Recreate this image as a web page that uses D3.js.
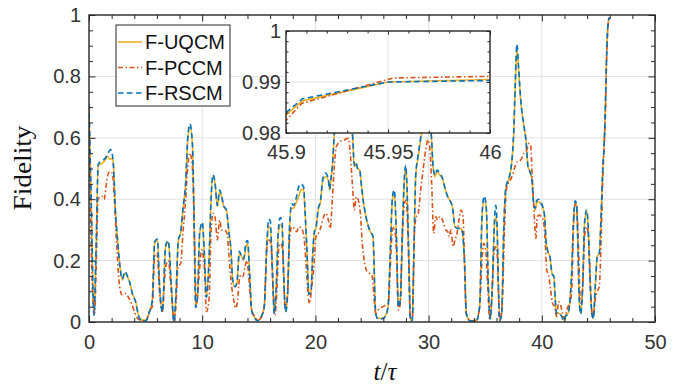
<!DOCTYPE html>
<html><head><meta charset="utf-8">
<script src="https://cdn.jsdelivr.net/npm/d3@7"></script>
<style>body{margin:0;background:#fff}svg{display:block}</style>
</head><body>
<script>
// ---------- data ----------
const xTicks=[0,10,20,30,40,50];
const yTicks=[0,0.2,0.4,0.6,0.8,1];
const insetXTicks=[45.9,45.95,46];
const insetYTicks=[0.98,0.99,1];
const seriesNames=["F-UQCM","F-PCCM","F-RSCM"];

const uqcm=[[0,0.70],[0.2,0.38],[0.44,0.025],[0.6,0.2],[0.82,0.51],[1.18,0.517],[1.47,0.53],[1.62,0.54],[1.83,0.53],[2.06,0.533],[2.14,0.52],[2.36,0.343],[2.5,0.278],[2.71,0.19],[2.94,0.137],[3.18,0.158],[3.39,0.148],[3.59,0.13],[3.83,0.093],[4.12,0.066],[4.42,0.017],[4.71,0.006],[5.01,0.006],[5.3,0.028],[5.59,0.07],[5.8,0.256],[6.04,0.267],[6.24,0.115],[6.48,0.034],[6.77,0.245],[7.01,0.26],[7.24,0.137],[7.51,0.0],[7.71,0.115],[7.89,0.267],[8.1,0.289],[8.3,0.365],[8.54,0.45],[8.72,0.59],[8.92,0.636],[9.13,0.58],[9.28,0.343],[9.42,0.05],[9.57,0.072],[9.78,0.289],[10.01,0.32],[10.19,0.223],[10.37,0.083],[10.6,0.202],[10.78,0.397],[10.95,0.473],[11.13,0.452],[11.34,0.376],[11.54,0.424],[11.72,0.408],[11.9,0.376],[12.13,0.365],[12.37,0.29],[12.54,0.235],[12.69,0.137],[12.89,0.115],[13.07,0.126],[13.28,0.224],[13.48,0.213],[13.66,0.202],[13.87,0.245],[14.01,0.256],[14.19,0.158],[14.37,0.039],[14.6,0.017],[14.9,0.006],[15.19,0.017],[15.48,0.05],[15.72,0.256],[15.87,0.31],[16.01,0.31],[16.19,0.18],[16.37,0.028],[16.54,0.115],[16.72,0.289],[16.9,0.316],[17.05,0.31],[17.19,0.158],[17.37,0.034],[17.55,0.093],[17.72,0.31],[17.9,0.37],[18.08,0.37],[18.28,0.387],[18.52,0.408],[18.72,0.43],[18.96,0.432],[19.08,0.365],[19.25,0.234],[19.43,0.093],[19.61,0.098],[19.75,0.213],[19.9,0.289],[20.08,0.31],[20.25,0.365],[20.43,0.387],[20.67,0.463],[20.9,0.473],[21.14,0.463],[21.26,0.43],[21.37,0.463],[21.55,0.528],[21.67,0.615],[22.0,0.70],[22.4,0.74],[22.8,0.72],[23.1,0.66],[23.29,0.6],[23.44,0.506],[23.58,0.517],[23.73,0.5],[23.91,0.495],[24.08,0.44],[24.26,0.386],[24.44,0.348],[24.61,0.32],[24.85,0.294],[25.08,0.278],[25.33,0.028],[25.53,0.012],[25.83,0.012],[26.12,0.017],[26.42,0.05],[26.62,0.234],[26.8,0.397],[26.97,0.419],[27.15,0.289],[27.33,0.05],[27.5,0.072],[27.68,0.289],[27.86,0.463],[27.98,0.506],[28.09,0.441],[28.27,0.18],[28.39,0.006],[28.56,0.006],[28.68,0.18],[28.86,0.473],[29.04,0.528],[29.21,0.571],[29.39,0.615],[29.7,0.66],[30.0,0.645],[30.24,0.604],[30.39,0.506],[30.57,0.473],[30.74,0.49],[30.98,0.479],[31.21,0.468],[31.42,0.44],[31.63,0.414],[31.86,0.397],[32.1,0.376],[32.33,0.31],[32.57,0.305],[32.81,0.305],[32.98,0.294],[33.16,0.202],[33.33,0.028],[33.63,0.006],[33.92,0.004],[34.22,0.006],[34.51,0.05],[34.72,0.343],[34.92,0.403],[35.1,0.365],[35.28,0.115],[35.45,0.012],[35.63,0.115],[35.81,0.31],[35.93,0.343],[36.04,0.31],[36.16,0.126],[36.28,0.006],[36.46,0.028],[36.63,0.289],[36.81,0.43],[36.99,0.457],[37.16,0.473],[37.34,0.517],[37.52,0.615],[37.65,0.76],[37.8,0.89],[37.95,0.82],[38.13,0.723],[38.42,0.636],[38.6,0.593],[38.78,0.506],[38.95,0.49],[39.13,0.462],[39.25,0.397],[39.42,0.365],[39.54,0.386],[39.72,0.392],[39.9,0.386],[40.07,0.376],[40.25,0.343],[40.37,0.267],[40.54,0.229],[40.72,0.213],[40.9,0.158],[41.07,0.148],[41.19,0.072],[41.31,0.028],[41.49,0.028],[41.72,0.023],[41.96,0.006],[42.13,0.023],[42.31,0.028],[42.49,0.072],[42.66,0.18],[42.78,0.31],[42.96,0.385],[43.08,0.376],[43.19,0.245],[43.31,0.072],[43.43,0.028],[43.61,0.115],[43.78,0.321],[43.96,0.36],[44.08,0.321],[44.25,0.148],[44.43,0.028],[44.55,0.012],[44.72,0.115],[44.9,0.213],[45.08,0.224],[45.26,0.37],[45.4,0.51],[45.5,0.57],[45.6,0.68],[45.72,0.86],[45.82,0.955],[45.9,0.9835],[45.908,0.9863],[45.95,0.990],[46,0.9905]];

const pccm=[[0,0.60],[0.35,0.07],[0.5,0.028],[0.65,0.2],[0.8,0.40],[1.12,0.41],[1.33,0.40],[1.62,0.473],[1.83,0.49],[2.06,0.485],[2.24,0.40],[2.47,0.234],[2.71,0.115],[2.94,0.088],[3.24,0.093],[3.53,0.077],[3.77,0.06],[4.06,0.028],[4.36,0.009],[4.71,0.004],[5.06,0.006],[5.36,0.039],[5.59,0.05],[5.8,0.213],[6.01,0.224],[6.24,0.093],[6.48,0.034],[6.77,0.18],[7.01,0.2],[7.24,0.115],[7.54,0.0],[7.71,0.072],[7.86,0.18],[8.1,0.19],[8.3,0.289],[8.54,0.397],[8.72,0.506],[8.92,0.55],[9.13,0.506],[9.31,0.289],[9.48,0.06],[9.72,0.148],[9.95,0.235],[10.19,0.18],[10.37,0.034],[10.6,0.072],[10.78,0.289],[10.95,0.354],[11.13,0.343],[11.34,0.267],[11.54,0.332],[11.72,0.3],[11.95,0.3],[12.19,0.289],[12.37,0.213],[12.54,0.137],[12.78,0.072],[12.95,0.045],[13.13,0.072],[13.28,0.137],[13.42,0.153],[13.6,0.148],[13.78,0.18],[13.95,0.2],[14.16,0.126],[14.37,0.039],[14.66,0.017],[14.95,0.006],[15.25,0.017],[15.48,0.05],[15.72,0.245],[15.9,0.267],[16.07,0.256],[16.25,0.115],[16.43,0.023],[16.6,0.104],[16.78,0.245],[16.96,0.256],[17.13,0.223],[17.31,0.05],[17.49,0.072],[17.72,0.267],[17.9,0.31],[18.13,0.305],[18.34,0.294],[18.55,0.31],[18.78,0.305],[19.02,0.267],[19.19,0.18],[19.37,0.083],[19.49,0.06],[19.67,0.115],[19.84,0.17],[20.05,0.278],[20.26,0.289],[20.49,0.31],[20.73,0.343],[20.96,0.354],[21.14,0.332],[21.31,0.305],[21.49,0.397],[21.67,0.506],[21.85,0.571],[22.14,0.587],[22.55,0.593],[22.91,0.598],[23.08,0.55],[23.26,0.452],[23.44,0.365],[23.61,0.408],[23.79,0.397],[23.97,0.354],[24.14,0.257],[24.32,0.2],[24.56,0.164],[24.79,0.158],[25.0,0.15],[25.33,0.028],[25.53,0.039],[25.74,0.045],[25.97,0.05],[26.21,0.055],[26.44,0.06],[26.62,0.18],[26.8,0.3],[26.97,0.31],[27.15,0.234],[27.33,0.039],[27.5,0.06],[27.68,0.267],[27.86,0.387],[28.03,0.397],[28.21,0.234],[28.39,0.012],[28.56,0.012],[28.74,0.289],[28.92,0.343],[29.09,0.354],[29.27,0.419],[29.51,0.495],[29.74,0.56],[29.95,0.593],[30.1,0.571],[30.27,0.452],[30.45,0.289],[30.63,0.343],[30.8,0.332],[30.98,0.343],[31.16,0.338],[31.33,0.321],[31.51,0.3],[31.69,0.294],[31.8,0.278],[31.98,0.3],[32.16,0.245],[32.33,0.267],[32.51,0.289],[32.68,0.332],[32.86,0.365],[33.04,0.343],[33.16,0.223],[33.33,0.028],[33.63,0.006],[33.92,0.004],[34.22,0.006],[34.51,0.05],[34.69,0.18],[34.87,0.256],[35.04,0.235],[35.22,0.115],[35.4,0.006],[35.57,0.072],[35.75,0.213],[35.93,0.245],[36.04,0.234],[36.16,0.115],[36.28,0.006],[36.52,0.072],[36.69,0.289],[36.87,0.43],[37.04,0.452],[37.22,0.462],[37.46,0.484],[37.63,0.506],[37.83,0.522],[38.13,0.527],[38.42,0.55],[38.66,0.56],[38.87,0.582],[39.01,0.577],[39.16,0.473],[39.31,0.365],[39.42,0.29],[39.48,0.272],[39.6,0.343],[39.78,0.348],[39.95,0.343],[40.13,0.332],[40.31,0.257],[40.43,0.17],[40.6,0.153],[40.78,0.104],[40.96,0.06],[41.13,0.05],[41.31,0.017],[41.49,0.066],[41.66,0.055],[41.84,0.028],[41.96,0.012],[42.13,0.028],[42.31,0.05],[42.49,0.06],[42.66,0.115],[42.78,0.289],[42.9,0.376],[43.02,0.387],[43.13,0.354],[43.25,0.234],[43.37,0.093],[43.49,0.06],[43.61,0.115],[43.78,0.278],[43.96,0.31],[44.08,0.294],[44.25,0.18],[44.37,0.05],[44.55,0.017],[44.72,0.072],[44.9,0.1],[45.08,0.115],[45.26,0.296],[45.37,0.445],[45.49,0.56],[45.61,0.658],[45.73,0.86],[45.84,0.962],[45.9,0.9825],[45.9077,0.9858],[45.9526,0.9908],[46,0.9911]];

const rscm=[[0,0.71],[0.2,0.39],[0.44,0.022],[0.6,0.2],[0.82,0.515],[1.18,0.525],[1.47,0.535],[1.62,0.545],[1.91,0.562],[2.06,0.545],[2.14,0.52],[2.36,0.343],[2.5,0.278],[2.71,0.19],[2.94,0.14],[3.18,0.165],[3.39,0.15],[3.59,0.13],[3.83,0.093],[4.12,0.066],[4.42,0.015],[4.71,0.004],[5.01,0.004],[5.3,0.028],[5.59,0.07],[5.8,0.262],[6.04,0.27],[6.24,0.115],[6.48,0.032],[6.77,0.25],[7.01,0.265],[7.24,0.137],[7.51,0.0],[7.71,0.115],[7.89,0.267],[8.1,0.292],[8.3,0.368],[8.54,0.455],[8.72,0.6],[8.92,0.645],[9.13,0.585],[9.28,0.343],[9.42,0.048],[9.57,0.072],[9.78,0.292],[10.01,0.325],[10.19,0.223],[10.37,0.08],[10.6,0.202],[10.78,0.4],[10.95,0.48],[11.13,0.455],[11.34,0.38],[11.54,0.43],[11.72,0.41],[11.9,0.378],[12.13,0.365],[12.37,0.29],[12.54,0.235],[12.69,0.137],[12.89,0.115],[13.07,0.128],[13.28,0.23],[13.48,0.215],[13.66,0.205],[13.87,0.26],[14.01,0.265],[14.19,0.158],[14.37,0.037],[14.6,0.015],[14.9,0.004],[15.19,0.015],[15.48,0.05],[15.72,0.262],[15.87,0.335],[16.01,0.33],[16.19,0.18],[16.37,0.026],[16.54,0.115],[16.72,0.295],[16.9,0.34],[17.05,0.33],[17.19,0.158],[17.37,0.032],[17.55,0.093],[17.72,0.315],[17.9,0.385],[18.08,0.38],[18.28,0.4],[18.52,0.44],[18.72,0.45],[18.96,0.44],[19.08,0.365],[19.25,0.234],[19.43,0.09],[19.61,0.098],[19.75,0.213],[19.9,0.292],[20.08,0.315],[20.25,0.37],[20.43,0.39],[20.67,0.47],[20.9,0.485],[21.14,0.465],[21.26,0.432],[21.37,0.465],[21.55,0.535],[21.67,0.62],[22.0,0.71],[22.4,0.75],[22.8,0.73],[23.1,0.67],[23.29,0.605],[23.44,0.51],[23.58,0.52],[23.73,0.5],[23.91,0.495],[24.08,0.44],[24.26,0.386],[24.44,0.348],[24.61,0.32],[24.85,0.294],[25.08,0.28],[25.33,0.026],[25.53,0.01],[25.83,0.01],[26.12,0.015],[26.42,0.05],[26.62,0.234],[26.8,0.405],[26.97,0.43],[27.15,0.289],[27.33,0.048],[27.5,0.072],[27.68,0.292],[27.86,0.47],[27.98,0.51],[28.09,0.441],[28.27,0.18],[28.39,0.004],[28.56,0.004],[28.68,0.18],[28.86,0.478],[29.04,0.535],[29.21,0.578],[29.39,0.62],[29.7,0.67],[30.0,0.65],[30.24,0.61],[30.39,0.51],[30.57,0.478],[30.74,0.495],[30.98,0.485],[31.21,0.47],[31.42,0.44],[31.63,0.414],[31.86,0.397],[32.1,0.376],[32.33,0.31],[32.57,0.305],[32.81,0.305],[32.98,0.294],[33.16,0.202],[33.33,0.026],[33.63,0.004],[33.92,0.003],[34.22,0.004],[34.51,0.05],[34.72,0.35],[34.92,0.41],[35.1,0.37],[35.28,0.115],[35.45,0.01],[35.63,0.115],[35.81,0.325],[35.93,0.38],[36.04,0.33],[36.16,0.126],[36.28,0.004],[36.46,0.026],[36.63,0.292],[36.81,0.435],[36.99,0.46],[37.16,0.478],[37.34,0.52],[37.52,0.62],[37.65,0.77],[37.8,0.905],[37.95,0.83],[38.13,0.728],[38.42,0.64],[38.6,0.593],[38.78,0.506],[38.95,0.49],[39.13,0.462],[39.25,0.397],[39.42,0.37],[39.54,0.395],[39.72,0.4],[39.9,0.39],[40.07,0.376],[40.25,0.343],[40.37,0.267],[40.54,0.229],[40.72,0.213],[40.9,0.158],[41.07,0.148],[41.19,0.072],[41.31,0.026],[41.49,0.026],[41.72,0.02],[41.96,0.004],[42.13,0.02],[42.31,0.026],[42.49,0.072],[42.66,0.18],[42.78,0.315],[42.96,0.395],[43.08,0.38],[43.19,0.245],[43.31,0.07],[43.43,0.026],[43.61,0.115],[43.78,0.325],[43.96,0.365],[44.08,0.325],[44.25,0.148],[44.43,0.026],[44.55,0.01],[44.72,0.115],[44.9,0.213],[45.08,0.224],[45.26,0.37],[45.4,0.51],[45.5,0.57],[45.6,0.68],[45.72,0.86],[45.82,0.955],[45.9,0.984],[45.908,0.9867],[45.95,0.990],[46,0.9903]];

// ---------- setup ----------
const W=688,H=388;
const svg=d3.select("body").append("svg").attr("width",W).attr("height",H);
const FONT="'Liberation Sans', Arial, Helvetica, sans-serif";
const AX="#262626", TXT="#333333", GRID="#e1e1e1";
const series=[uqcm,pccm,rscm];
const styles=[
  {c:"#EDB120",d:null},
  {c:"#D95319",d:"5,2.5,1.5,2.5"},
  {c:"#0072BD",d:"5.5,3.5"}
];

const x=d3.scaleLinear().domain([0,50]).range([89,655]);
const y=d3.scaleLinear().domain([0,1]).range([322,15]);
const ix=d3.scaleLinear().domain([45.9,46]).range([286,490]);
const iy=d3.scaleLinear().domain([0.98,1]).range([133,31]);

function panel(id,xs,ys,opt){
  const [x0,x1]=xs.range(), [yb,yt]=ys.range();
  const g=svg.append("g");
  g.append("rect").attr("x",x0).attr("y",yt).attr("width",x1-x0).attr("height",yb-yt).attr("fill","#fff");
  // grid
  const [dx0,dx1]=xs.domain(), [dy0,dy1]=ys.domain();
  const eps=1e-9;
  g.append("g").selectAll("line").data(opt.majX.filter(v=>v>dx0+eps&&v<dx1-eps)).join("line")
    .attr("x1",d=>xs(d)).attr("x2",d=>xs(d)).attr("y1",yt).attr("y2",yb)
    .attr("stroke",GRID).attr("stroke-width",1);
  g.append("g").selectAll("line").data(opt.majY.filter(v=>v>dy0+eps&&v<dy1-eps)).join("line")
    .attr("y1",d=>ys(d)).attr("y2",d=>ys(d)).attr("x1",x0).attr("x2",x1)
    .attr("stroke",GRID).attr("stroke-width",1);
  // clip
  svg.append("clipPath").attr("id",id).append("rect")
    .attr("x",x0).attr("y",yt).attr("width",x1-x0).attr("height",yb-yt);
  const line=d3.line().x(d=>xs(d[0])).y(d=>ys(d[1])).curve(opt.curve);
  const lg=g.append("g").attr("clip-path",`url(#${id})`);
  series.forEach((s,i)=>{
    lg.append("path").datum(s).attr("d",line).attr("fill","none")
      .attr("stroke",styles[i].c).attr("stroke-width",opt.lw)
      .attr("stroke-dasharray",styles[i].d).attr("stroke-linejoin","round");
  });
  // ticks via d3 axes (inward)
  const mk=(axisFn,scale,vals,len,pos,fmt,pad)=>{
    const a=axisFn(scale).tickValues(vals).tickSize(-len).tickPadding(pad||0)
      .tickFormat(fmt||(()=>""));
    const ag=g.append("g").attr("transform",pos).call(a);
    ag.select(".domain").remove();
    ag.selectAll(".tick line").attr("stroke",AX).attr("stroke-width",1);
    ag.selectAll("text").attr("font-family",FONT).attr("font-size",opt.fs).attr("fill",TXT);
    return ag;
  };
  const minX=opt.minX.filter(v=>!opt.majX.some(m=>Math.abs(m-v)<1e-9));
  const minY=opt.minY.filter(v=>!opt.majY.some(m=>Math.abs(m-v)<1e-9));
  mk(d3.axisBottom,xs,opt.majX,opt.tM,`translate(0,${yb})`,opt.fx,opt.padX);
  mk(d3.axisBottom,xs,minX,opt.tm,`translate(0,${yb})`);
  mk(d3.axisTop,xs,opt.majX,opt.tM,`translate(0,${yt})`);
  mk(d3.axisTop,xs,minX,opt.tm,`translate(0,${yt})`);
  mk(d3.axisLeft,ys,opt.majY,opt.tM,`translate(${x0},0)`,opt.fy,opt.padY);
  mk(d3.axisLeft,ys,minY,opt.tm,`translate(${x0},0)`);
  mk(d3.axisRight,ys,opt.majY,opt.tM,`translate(${x1},0)`);
  mk(d3.axisRight,ys,minY,opt.tm,`translate(${x1},0)`);
  g.append("rect").attr("x",x0).attr("y",yt).attr("width",x1-x0).attr("height",yb-yt)
    .attr("fill","none").attr("stroke",AX).attr("stroke-width",1.4);
  return g;
}

const fmtY=d=>d===0?"0":d===1?"1":d3.format(".1f")(d);
panel("clipMain",x,y,{
  majX:xTicks, minX:d3.range(0,50.001,2),
  majY:yTicks, minY:d3.range(0,1.0001,0.05).map(v=>+v.toFixed(2)),
  tM:6.5, tm:4, fs:20, lw:1.6,
  fx:d3.format("d"), fy:fmtY, padX:13, padY:8,
  curve:d3.curveMonotoneX
});

// axis titles
svg.append("text").attr("transform","translate(31,168) rotate(-90)")
  .attr("text-anchor","middle").attr("font-family","'Liberation Serif','Times New Roman',serif")
  .attr("font-size",25).attr("fill","#111").attr("textLength",85).attr("lengthAdjust","spacingAndGlyphs")
  .text("Fidelity");
const xt=svg.append("text").attr("x",385).attr("y",380).attr("text-anchor","middle")
  .attr("font-family","'Liberation Serif','Times New Roman',serif").attr("font-size",25).attr("fill","#111");
xt.append("tspan").attr("font-style","italic").text("t");
xt.append("tspan").text("/");
xt.append("tspan").attr("font-style","italic").text("τ");

// legend
const lgd=svg.append("g");
lgd.append("rect").attr("x",116).attr("y",25).attr("width",114).attr("height",81)
  .attr("fill","#fff").attr("stroke",AX).attr("stroke-width",1);
const rowY=d3.scalePoint().domain(seriesNames).range([42,93]);
seriesNames.forEach((n,i)=>{
  lgd.append("line").attr("x1",118).attr("x2",142).attr("y1",rowY(n)).attr("y2",rowY(n))
    .attr("stroke",styles[i].c).attr("stroke-width",1.6).attr("stroke-dasharray",styles[i].d);
  lgd.append("text").attr("x",145).attr("y",rowY(n)).attr("dy","0.36em")
    .attr("font-family",FONT).attr("font-size",20).attr("fill","#111").text(n);
});

// inset
panel("clipInset",ix,iy,{
  majX:insetXTicks, minX:d3.range(0,11).map(k=>+(45.9+k*0.01).toFixed(2)),
  majY:insetYTicks, minY:d3.range(0,11).map(k=>+(0.98+k*0.002).toFixed(3)),
  tM:3.5, tm:2.5, fs:20, lw:1.6,
  fx:d=>String(d), fy:d=>d===1?"1":String(d), padX:12, padY:5,
  curve:d3.curveLinear
});
</script>
</body></html>
